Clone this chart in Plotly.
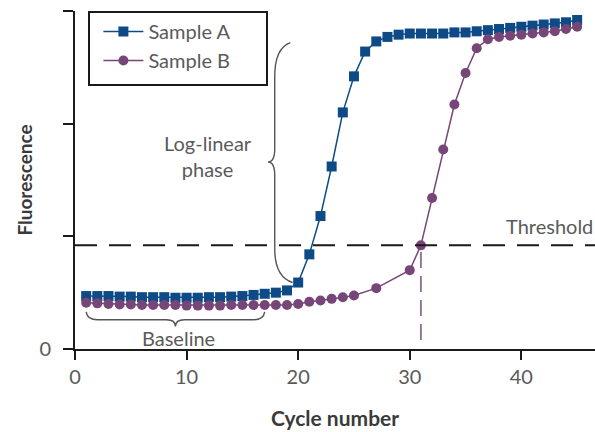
import plotly.graph_objects as go

# qPCR amplification curves
cycles_a = list(range(1, 46))
fluor_a = [0.47, 0.47, 0.47, 0.465, 0.465, 0.46, 0.46, 0.46, 0.455, 0.455,
           0.455, 0.46, 0.46, 0.465, 0.47, 0.48, 0.49, 0.50, 0.52, 0.59,
           0.84, 1.18, 1.62, 2.10, 2.42, 2.64, 2.73, 2.77, 2.79, 2.80,
           2.80, 2.80, 2.80, 2.81, 2.81, 2.82, 2.83, 2.84, 2.85, 2.86,
           2.87, 2.88, 2.89, 2.90, 2.92]

cycles_b = list(range(1, 26)) + [27] + list(range(30, 46))
fluor_b = [0.41, 0.405, 0.40, 0.395, 0.395, 0.39, 0.39, 0.39, 0.39, 0.385,
           0.385, 0.385, 0.385, 0.39, 0.39, 0.39, 0.39, 0.39, 0.39, 0.40,
           0.42, 0.43, 0.445, 0.46, 0.475, 0.54,
           0.70, 0.92, 1.34, 1.77, 2.17, 2.45, 2.67, 2.75, 2.77, 2.78,
           2.79, 2.80, 2.81, 2.82, 2.84, 2.86]

threshold = 0.92
ct_b = 31
x_ticks = [0, 10, 20, 30, 40]
y_ticks = [0, 1, 2, 3]
y_ticktext = ["0", "", "", ""]

BLUE = "#0e4a86"
PURPLE = "#774679"
GRAY_TXT = "#5a5a5a"
TITLE_TXT = "#3a3a3a"
FONT = "Lato"

fig = go.Figure()

# threshold line
fig.add_shape(type="line", xref="paper", yref="y", x0=0, x1=1,
              y0=threshold, y1=threshold,
              line=dict(color="#1a1a1a", width=2, dash="22px,12px"))
# Ct drop line for sample B
fig.add_shape(type="line", xref="x", yref="y", x0=ct_b, x1=ct_b,
              y0=0.08, y1=threshold,
              line=dict(color="#8f7b92", width=2, dash="16px,8px"))

# legend frame
fig.add_shape(type="rect", xref="paper", yref="paper",
              x0=(89 - 75) / 520, x1=(267 - 75) / 520,
              y0=(349 - 85) / 338, y1=(349 - 12) / 338,
              line=dict(color="#1a1a1a", width=2), fillcolor="white", layer="below")

fig.add_trace(go.Scatter(
    x=cycles_a, y=fluor_a, mode="lines+markers", name="Sample A",
    line=dict(color=BLUE, width=1.5),
    marker=dict(symbol="square", size=10, color=BLUE)))
fig.add_trace(go.Scatter(
    x=cycles_b, y=fluor_b, mode="lines+markers", name="Sample B",
    line=dict(color=PURPLE, width=1.5),
    marker=dict(symbol="circle", size=10, color=PURPLE)))

# curly brace for the log-linear phase (vertical, pointing left)
bx, bp = 17.9, 17.3          # spine and tip x (cycles)
ytop, ybot, ymid = 2.72, 0.59, 1.66
brace_ll = (f"M 19.3,{ytop} Q {bx},{ytop-0.05} {bx},{ytop-0.30} "
            f"L {bx},{ymid+0.12} Q {bx},{ymid} {bp},{ymid} "
            f"Q {bx},{ymid} {bx},{ymid-0.12} "
            f"L {bx},{ybot+0.30} Q {bx},{ybot+0.05} 19.5,{ybot}")
fig.add_shape(type="path", xref="x", yref="y", path=brace_ll,
              line=dict(color="#555555", width=1.4))

# curly brace for the baseline (horizontal, pointing down)
xl, xr, xm = 1.0, 17.0, 9.0
ye, ys, yt = 0.33, 0.26, 0.20
brace_bl = (f"M {xl},{ye} Q {xl+0.1},{ys} {xl+1.0},{ys} "
            f"L {xm-0.8},{ys} Q {xm},{ys} {xm},{yt} "
            f"Q {xm},{ys} {xm+0.8},{ys} "
            f"L {xr-1.0},{ys} Q {xr-0.1},{ys} {xr},{ye}")
fig.add_shape(type="path", xref="x", yref="y", path=brace_bl,
              line=dict(color="#555555", width=1.4))

fig.add_annotation(x=11.9, y=1.71, xref="x", yref="y", text="Log-linear<br>phase",
                   showarrow=False, font=dict(family=FONT, size=20, color=GRAY_TXT),
                   align="center")
fig.add_annotation(x=9.3, y=0.10, xref="x", yref="y", text="Baseline",
                   showarrow=False, font=dict(family=FONT, size=20, color=GRAY_TXT))
fig.add_annotation(x=1.0, y=threshold + 0.17, xref="paper", yref="y", text="Threshold",
                   xanchor="right", showarrow=False,
                   font=dict(family=FONT, size=20, color=GRAY_TXT))

fig.update_layout(
    width=595, height=432,
    margin=dict(l=75, r=0, t=11, b=83),
    paper_bgcolor="white", plot_bgcolor="white",
    font=dict(family=FONT, color=GRAY_TXT),
    showlegend=True,
    legend=dict(x=0.045, y=0.997, xanchor="left", yanchor="top",
                borderwidth=0, bgcolor="rgba(0,0,0,0)",
                font=dict(family=FONT, size=20, color=GRAY_TXT),
                itemwidth=40),
    xaxis=dict(range=[0, 46.6], tickvals=x_ticks, ticks="outside", ticklen=9,
               tickwidth=2, tickcolor="#1a1a1a", showline=True, linewidth=2,
               linecolor="#1a1a1a", showgrid=False, zeroline=False,
               tickfont=dict(family=FONT, size=20, color=GRAY_TXT),
               title=dict(text="<b>Cycle number</b>", standoff=24,
                          font=dict(family=FONT, size=21, color=TITLE_TXT))),
    yaxis=dict(range=[0, 3], tickvals=y_ticks, ticktext=y_ticktext, ticks="outside",
               ticklen=10, tickwidth=2, tickcolor="#1a1a1a", showline=True,
               linewidth=2, linecolor="#1a1a1a", showgrid=False, zeroline=False,
               ticklabelstandoff=8,
               tickfont=dict(family=FONT, size=20, color=GRAY_TXT),
               title=dict(text="<b>Fluorescence</b>", standoff=2,
                          font=dict(family=FONT, size=19, color=TITLE_TXT))),
)

fig.write_html("out.html")
